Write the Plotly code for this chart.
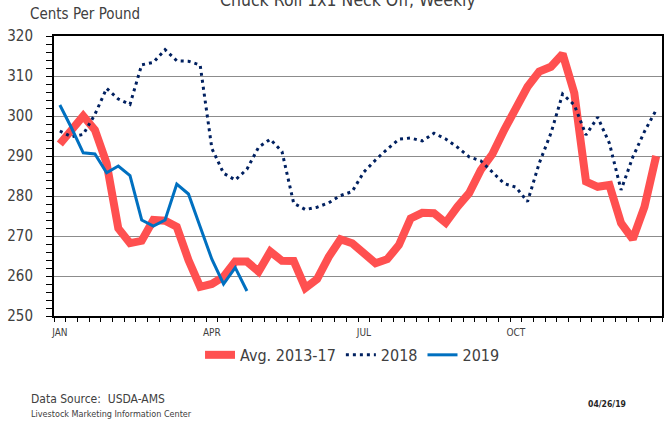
import plotly.graph_objects as go

weeks = list(range(1, 53))
month_ticks = [1, 14, 27, 40]
month_labels = ["JAN", "APR", "JUL", "OCT"]

avg_2013_17 = [293, 296.9, 300, 296.5, 288.2, 271.9, 268.2, 268.8, 274, 273.8,
               272.3, 264, 257.3, 258, 259.8, 263.6, 263.6, 261.1, 266.1, 263.8,
               263.75, 257, 259.2, 264.8, 269.2, 268.2, 265.7, 263.2, 264.2, 267.75,
               274.4, 275.8, 275.7, 273.3, 277.3, 280.7, 286.5, 290.5, 296.5, 302.3,
               307.3, 311.1, 312.3, 315.5, 305.7, 283.6, 282.3, 282.75, 273.2, 269.2,
               277.3, 290]
y2018 = [296.25, 294.8, 295.4, 300.4, 306.9, 304.25, 302.9, 312.8, 313.4, 316.6,
         313.8, 313.7, 312.75, 291.9, 285.7, 284, 286.7, 292.2, 294.2, 291.1,
         278.2, 276.6, 277.2, 278.3, 280.1, 281.1, 286, 289, 291.7, 294.2,
         294.5, 293.75, 295.7, 294.25, 292.2, 289.8, 288.8, 285.9, 283.1, 282.2,
         278.6, 288.2, 295.7, 305.5, 302.75, 295.25, 299.7, 293.2, 281.5, 289.7,
         296.1, 301.5]
y2019 = [302.75, 297, 290.8, 290.5, 285.8, 287.5, 285.1, 274, 272.5, 274,
         283, 280.5, 272.3, 264.2, 258, 262.1, 256.25]

FONT = "Liberation Sans Narrow, Arial Narrow, DejaVu Sans Condensed, sans-serif"

fig = go.Figure()
fig.add_trace(go.Scatter(x=weeks, y=avg_2013_17, mode="lines", name="Avg. 2013-17",
                         line=dict(color="#FF5050", width=8)))
fig.add_trace(go.Scatter(x=weeks, y=y2018, mode="lines", name="2018",
                         line=dict(color="#002060", width=3, dash="3px,4px")))
fig.add_trace(go.Scatter(x=weeks[:len(y2019)], y=y2019, mode="lines", name="2019",
                         line=dict(color="#0070C0", width=3)))

fig.update_layout(
    width=665, height=428,
    margin=dict(l=54, r=1, t=36, b=112),
    paper_bgcolor="white", plot_bgcolor="white",
    font=dict(family=FONT, color="#404040"),
    showlegend=True,
    legend=dict(orientation="h", x=0.491, xanchor="center", y=-0.139, yanchor="middle",
                font=dict(size=16, color="#404040"), bgcolor="rgba(0,0,0,0)"),
    xaxis=dict(range=[0.5, 52.5], tickmode="array", tickvals=month_ticks, ticktext=month_labels,
               ticks="", tickfont=dict(size=10, color="#404040"), showgrid=False,
               showline=True, linecolor="black", linewidth=2, mirror=True, zeroline=False,
               ticklabelstandoff=6,
               minor=dict(tick0=0.5, dtick=1, ticks="outside", ticklen=4, tickcolor="black",
                          tickwidth=1, showgrid=False)),
    yaxis=dict(range=[250, 320], dtick=10, tick0=250, ticks="outside", ticklen=6, tickcolor="black",
               tickfont=dict(size=15, color="#404040"), showgrid=True, gridcolor="#8C8C8C",
               gridwidth=1, showline=True, linecolor="black", linewidth=2, mirror=True,
               zeroline=False, ticklabelstandoff=10,
               minor=dict(dtick=2, tick0=250, ticks="outside", ticklen=6, tickcolor="black",
                          tickwidth=1, showgrid=False)),
)

annots = [
    dict(text="Chuck Roll 1x1 Neck Off, Weekly", x=0.4836, y=1.127, xanchor="center",
         yanchor="middle", font=dict(size=17.5, color="#404040")),
    dict(text="Cents Per Pound", x=-0.0426, y=1.0768, xanchor="left", yanchor="middle",
         font=dict(size=15, color="#404040")),
    dict(text="Data Source:\u00a0 USDA-AMS", x=(29 - 54) / 610, y=(316 - 399) / 280,
         xanchor="left", yanchor="middle", font=dict(size=12, color="#404040")),
    dict(text="Livestock Marketing Information Center", x=(29 - 54) / 610, y=(316 - 414) / 280,
         xanchor="left", yanchor="middle", font=dict(size=9, color="#404040")),
    dict(text="<b>04/26/19</b>", x=(588 - 54) / 610, y=(316 - 404) / 280,
         xanchor="left", yanchor="middle", font=dict(size=8.6, color="#262626")),
]
for a in annots:
    fig.add_annotation(xref="paper", yref="paper", showarrow=False, **a)

fig.write_html("out.html", config={"displayModeBar": False},
               post_script="document.body.style.margin='0';")
